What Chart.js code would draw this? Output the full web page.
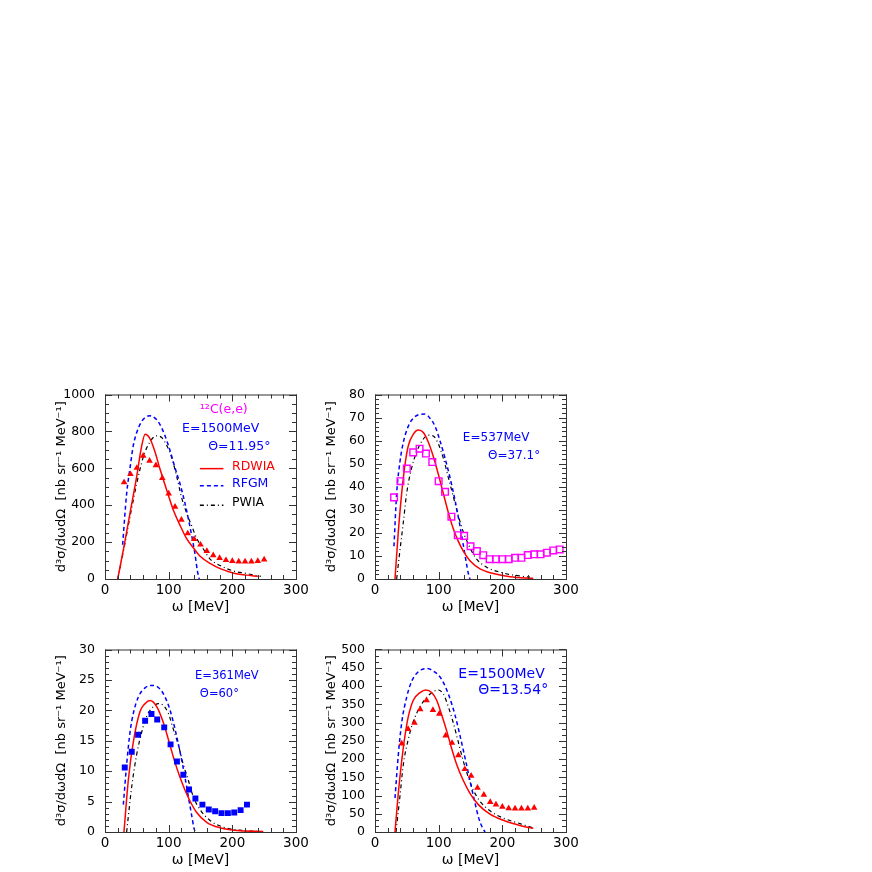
<!DOCTYPE html>
<html>
<head>
<meta charset="utf-8">
<script src="https://cdn.jsdelivr.net/npm/chart.js@4.4.1/dist/chart.umd.min.js"></script>
<style>
  html, body { margin: 0; padding: 0; background: #fff; overflow: hidden; }
  body { width: 872px; height: 872px; position: relative; }
  canvas { position: absolute; }
</style>
</head>
<body>
<canvas id="c1" width="271" height="242" style="left:45px;top:377px"></canvas>
<canvas id="c2" width="271" height="242" style="left:315px;top:377px"></canvas>
<canvas id="c3" width="271" height="240" style="left:45px;top:632px"></canvas>
<canvas id="c4" width="271" height="240" style="left:315px;top:632px"></canvas>
<script>
// panel 1: 12C(e,e) E=1500MeV theta=11.95
const p1DataX = [30,40,50,60,70,80,90,100,110,120,130,140,150,160,170,180,190,200,210,220,230,240,250]
const p1DataY = [524,568,602,668,640,616,547,463,391,321,247,216,186,151,128,113,102,97,94,94,94,97,105]
const p1Rdwia = [[20,0],[30,180],[40,370],[50,560],[57,710],[63,785],[70,765],[78,695],[86,600],[97,481],[107,377],[118,290],[128,220],[139,168],[149,125],[165,85],[181,56],[201,33],[222,21],[240,15]]
const p1Rfgm = [[27.7,186],[34,463],[39.3,602],[44.5,724],[49.7,793],[57.6,854],[65.4,880],[70,885],[78.5,872],[86.4,837],[94.2,776],[102,698],[110,602],[117.8,516],[125.6,411],[131,325],[136,238],[141.4,134],[145,47],[148,0]]
const p1Pwia = [[20,0],[30,170],[40,350],[50,520],[60,660],[70,740],[81,776],[89,767],[97,724],[105,655],[113,550],[120,446],[128,359],[136,290],[144,220],[155,160],[165,108],[181,73],[202,43],[222,30],[235,20],[245,15]]

// panel 2: E=537MeV theta=37.1
const p2DataX = [30,40,50,60,70,80,90,100,110,120,130,140,150,160,170,180,190,200,210,220,230,240,250,260,270,280,290]
const p2DataY = [35.4,42.4,47.9,54.9,56.5,54.4,50.7,42.4,37.8,27,19,18.7,14.2,12.1,10.3,8.6,8.6,8.6,8.6,9.2,9.2,10.4,10.7,10.7,11.4,12.4,12.8]
const p2Rdwia = [[31.4,0],[36.6,20.4],[41.9,37.1],[47.1,49.6],[52.4,57.9],[60.2,62.8],[68.1,64.6],[75.9,63.5],[83.8,59.3],[91.6,53.1],[99.5,45.4],[107.3,37.1],[115.2,28.8],[123,21.8],[130.9,16.3],[138.7,12.1],[149.2,7.9],[165,4.4],[185.8,2.4],[212,1.0],[248.6,0.3]]
const p2Rfgm = [[29.8,14.2],[34,37.1],[39.3,51],[44.5,59.3],[52.4,66.3],[60.2,69.7],[70.7,71.4],[78.5,71.5],[86.4,69.7],[94.2,66.3],[102,60],[110,52.4],[117.8,44],[125.6,34.3],[132.4,24.6],[137.7,16.3],[142.9,7.9],[146.6,2.4],[149.2,0]]
const p2Pwia = [[34,0],[39,12],[44.5,24.6],[49.7,37.1],[57.6,48.2],[65.4,55.1],[75.9,60.7],[83.8,62.4],[91.6,62],[99.5,58.6],[107.3,52.4],[115.2,44],[123,35.7],[130.9,27.4],[138.7,20.4],[149.2,13.5],[159.7,8.6],[175.4,5.1],[201.5,2.6],[227.7,1.3],[243.4,0.8]]

// panel 3: E=361MeV theta=60
const p3DataX = [31,42,52,63,73,82,93,103,113,123,132,142,153,163,173,183,193,203,213,223]
const p3DataY = [10.6,13.2,16.0,18.3,19.4,18.5,17.2,14.4,11.6,9.4,7.0,5.5,4.5,3.7,3.4,3.1,3.1,3.2,3.6,4.5]
const p3Rdwia = [[29.8,0],[36.6,8.5],[44.5,14.8],[55,19.8],[62.8,21.1],[70.7,21.6],[81.2,20.6],[91.6,18.0],[102,14.3],[110,11.4],[117.8,9.0],[125.6,6.9],[133.5,5.1],[144,3.2],[159.7,1.6],[180.6,0.7],[212,0.2],[248.6,0.1]]
const p3Rfgm = [[28.8,4.5],[34,11.1],[39.3,16.4],[44.5,19.5],[52.4,22.2],[62.8,23.7],[75.9,24.1],[86.4,23.5],[94.2,22.2],[102,20.1],[110,16.9],[117.8,13.2],[125.6,9.0],[130.9,5.8],[136.2,2.7],[139.8,0.6],[141.9,0]]
const p3Pwia = [[34,0],[41.9,7.4],[49.7,12.7],[57.6,16.4],[65.4,19.0],[75.9,20.6],[83.8,21.1],[91.6,20.8],[99.5,19.5],[107.3,16.9],[115.2,14.3],[123,11.1],[130.9,8.5],[138.7,5.8],[149.2,3.7],[164.9,1.9],[185.8,0.8],[212,0.3],[238.3,0.1]]

// panel 4: E=1500MeV theta=13.54
const p4DataX = [42,52,62,71,81,91,101,111,121,131,141,151,161,171,181,190,200,210,220,230,240,250]
const p4DataY = [242,282,299,336,361,334,324,264,244,210,172,154,121,102,82,75,69,65,64,64,64,66]
const p4Rdwia = [[31.4,0],[36.6,106],[41.9,194],[47.1,264],[52.4,317],[60.2,361],[70.7,382],[80.1,389],[89,382],[96.9,361],[104.7,321],[112.6,277],[120.4,229],[128.3,185],[138.7,141],[149.2,106],[162.3,75],[180.6,49],[201.5,32],[227.7,18],[248.6,10]]
const p4Rfgm = [[31.4,93],[36.6,211],[41.9,299],[49.7,369],[57.6,413],[68.1,439],[81.2,448],[94.2,438],[104.7,418],[115.2,378],[125.6,321],[133.5,264],[141.4,203],[149.2,141],[157,80],[163.3,36],[168.5,13],[172.8,0]]
const p4Pwia = [[33,0],[39.3,100],[44.5,185],[52.4,255],[60.2,303],[70.7,343],[81.2,369],[91.6,385],[99.5,389],[107.3,378],[115.2,343],[123,299],[130.9,246],[138.7,194],[146.6,150],[154.4,115],[164.9,84],[180.6,58],[201.5,38],[227.7,23],[248.6,11]]

const yTitle = 'd\u00b3\u03c3/d\u03c9d\u03a9  [nb sr\u207b\u00b9 MeV\u207b\u00b9]'
const xTitle = '\u03c9 [MeV]'
const FONT = 'DejaVu Sans'
const RED = '#ff0000', BLUE = '#0000ff', MAG = '#ff00ff'

const pairs = arr => arr.map(p => ({x: p[0], y: p[1]}))
const zip = (xs, ys) => xs.map((x, i) => ({x, y: ys[i]}))

// frame with inward ticks on all four sides, plus in-plot labels
const framePlugin = {
    id: 'frame',
    afterDraw(chart, args, opts) {
        const {ctx, chartArea: a, scales: {x, y}} = chart
        ctx.save()
        ctx.strokeStyle = '#333'
        ctx.lineWidth = 1
        ctx.strokeRect(a.left + 0.5, a.top + 0.5, a.right - a.left, a.bottom - a.top)
        const tick = (x1, y1, x2, y2) => { ctx.beginPath(); ctx.moveTo(x1, y1); ctx.lineTo(x2, y2); ctx.stroke() }
        const isMajor = (v, m) => Math.abs(v / m - Math.round(v / m)) < 1e-6
        for (let i = 0; ; i++) {
            const v = x.min + i * opts.xMinor
            if (v > x.max + 1e-6) break
            const px = Math.round(x.getPixelForValue(v)) + 0.5
            const len = isMajor(v, opts.xMajor) ? 7 : 4
            tick(px, a.bottom, px, a.bottom - len)
            tick(px, a.top, px, a.top + len)
        }
        for (let i = 0; ; i++) {
            const v = y.min + i * opts.yMinor
            if (v > y.max + 1e-6) break
            const py = Math.round(y.getPixelForValue(v)) + 0.5
            const len = isMajor(v, opts.yMajor) ? 7 : 4
            tick(a.left, py, a.left + len, py)
            tick(a.right, py, a.right - len, py)
        }
        ctx.textBaseline = 'middle'
        ctx.textAlign = 'left'
        for (const t of opts.texts) {
            ctx.fillStyle = t.color
            ctx.font = t.size + 'px "' + FONT + '"'
            ctx.fillText(t.text, x.getPixelForValue(t.x), y.getPixelForValue(t.y))
        }
        for (const l of opts.legend || []) {
            const py = y.getPixelForValue(l.y) + 2
            ctx.strokeStyle = l.color
            ctx.lineWidth = 1.5
            ctx.setLineDash(l.dash)
            tick(x.getPixelForValue(l.x0), py, x.getPixelForValue(l.x1), py)
            ctx.setLineDash([])
            ctx.fillStyle = l.color
            ctx.font = '12.5px "' + FONT + '"'
            ctx.fillText(l.text, x.getPixelForValue(l.tx), py - 2)
        }
        ctx.restore()
    }
}

function curve(data, color, dash, width) {
    return {
        data: pairs(data), showLine: true, pointRadius: 0, borderColor: color,
        borderWidth: width, borderDash: dash, cubicInterpolationMode: 'monotone', fill: false, order: 2
    }
}

function drawPanel(id, p) {
    const ctx = document.getElementById(id).getContext('2d')
    new Chart(ctx, {
        type: 'scatter',
        data: {
            datasets: [
                {
                    data: zip(p.dataX, p.dataY), pointStyle: p.marker, pointRadius: p.markerSize,
                    backgroundColor: p.markerFill, borderColor: p.markerColor, borderWidth: p.markerBorder, order: 1
                },
                curve(p.rdwia, RED, [], 1.5),
                curve(p.rfgm, BLUE, [4, 3], 1.5),
                curve(p.pwia, '#000', [4, 3, 1, 3], 1.2)
            ]
        },
        options: {
            responsive: false,
            animation: false,
            devicePixelRatio: 1,
            layout: { padding: { top: 10, right: 20, left: 0, bottom: 0 } },
            plugins: {
                legend: { display: false },
                tooltip: { enabled: false },
                frame: { xMinor: 20, xMajor: 100, yMinor: p.yMinor, yMajor: p.yStep, texts: p.texts, legend: p.legend }
            },
            scales: {
                x: {
                    type: 'linear', min: 0, max: 300,
                    grid: { display: false, drawTicks: false }, border: { display: false },
                    ticks: { stepSize: 100, color: '#000', padding: 3, font: { family: FONT, size: 13.5 }, maxRotation: 0, callback: v => v },
                    title: { display: true, text: xTitle, color: '#000', font: { family: FONT, size: 14 }, padding: { top: 0, bottom: 3 } },
                    afterFit: s => { s.height = 40 }
                },
                y: {
                    min: 0, max: p.yMax,
                    grid: { display: false, drawTicks: false }, border: { display: false },
                    ticks: { stepSize: p.yStep, color: '#000', padding: 10, font: { family: FONT, size: 12.5 }, callback: v => v },
                    title: { display: true, text: yTitle, color: '#000', font: { family: FONT, size: 13 }, padding: { top: 9, bottom: 0 } },
                    afterFit: s => { s.width = 60 }
                }
            }
        },
        plugins: [framePlugin]
    })
}

drawPanel('c1', {
    dataX: p1DataX, dataY: p1DataY, rdwia: p1Rdwia, rfgm: p1Rfgm, pwia: p1Pwia,
    marker: 'triangle', markerSize: 3.8, markerFill: RED, markerColor: RED, markerBorder: 0,
    yMax: 1000, yStep: 200, yMinor: 50,
    texts: [
        { text: '\u00b9\u00b2C(e,e)', x: 149, y: 917, color: MAG, size: 12.5 },
        { text: 'E=1500MeV', x: 121, y: 812, color: BLUE, size: 12.5 },
        { text: '\u0398=11.95\u00b0', x: 162, y: 719, color: BLUE, size: 12.5 }
    ],
    legend: [
        { text: 'RDWIA', y: 609, x0: 149, x1: 186, tx: 199.5, color: RED, dash: [] },
        { text: 'RFGM', y: 516, x0: 149, x1: 186, tx: 199.5, color: BLUE, dash: [4, 3] },
        { text: 'PWIA', y: 411, x0: 149, x1: 186, tx: 199.5, color: '#000', dash: [4, 3, 1, 3] }
    ]
})

drawPanel('c2', {
    dataX: p2DataX, dataY: p2DataY, rdwia: p2Rdwia, rfgm: p2Rfgm, pwia: p2Pwia,
    marker: 'rect', markerSize: 4.7, markerFill: 'rgba(0,0,0,0)', markerColor: MAG, markerBorder: 1.4,
    yMax: 80, yStep: 10, yMinor: 2,
    texts: [
        { text: 'E=537MeV', x: 138, y: 61.3, color: BLUE, size: 12 },
        { text: '\u0398=37.1\u00b0', x: 177.5, y: 53.3, color: BLUE, size: 12 }
    ]
})

drawPanel('c3', {
    dataX: p3DataX, dataY: p3DataY, rdwia: p3Rdwia, rfgm: p3Rfgm, pwia: p3Pwia,
    marker: 'rect', markerSize: 4.2, markerFill: BLUE, markerColor: BLUE, markerBorder: 0,
    yMax: 30, yStep: 5, yMinor: 1,
    texts: [
        { text: 'E=361MeV', x: 141.4, y: 25.6, color: BLUE, size: 11.5 },
        { text: '\u0398=60\u00b0', x: 149, y: 22.7, color: BLUE, size: 11.5 }
    ]
})

drawPanel('c4', {
    dataX: p4DataX, dataY: p4DataY, rdwia: p4Rdwia, rfgm: p4Rfgm, pwia: p4Pwia,
    marker: 'triangle', markerSize: 3.8, markerFill: RED, markerColor: RED, markerBorder: 0,
    yMax: 500, yStep: 50, yMinor: 50 / 3,
    texts: [
        { text: 'E=1500MeV', x: 130.9, y: 431, color: BLUE, size: 14 },
        { text: '\u0398=13.54\u00b0', x: 162.3, y: 387, color: BLUE, size: 14 }
    ]
})
</script>
</body>
</html>
